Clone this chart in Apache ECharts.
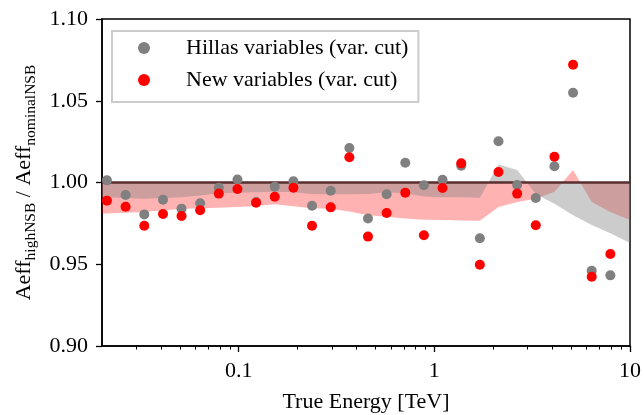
<!DOCTYPE html>
<html>
<head>
<meta charset="utf-8">
<script src="https://cdn.jsdelivr.net/npm/echarts@6/dist/echarts.min.js"></script>
<style>html,body{margin:0;padding:0;background:#fff;}#c{width:644px;height:415px;}</style>
</head>
<body>
<div id="c"></div>
<script>
const energy = [0.0212, 0.0264, 0.0329, 0.0410, 0.0510, 0.0635, 0.0791, 0.0985, 0.1227, 0.1528, 0.1904, 0.2370, 0.2952, 0.3677, 0.4578, 0.5702, 0.7101, 0.8843, 1.101, 1.372, 1.708, 2.127, 2.649, 3.299, 4.109, 5.117, 6.373, 7.937];
const hillas = [1.0013, 0.9924, 0.9805, 0.9895, 0.9840, 0.9873, 0.9968, 1.0018, 0.9880, 0.9974, 1.0007, 0.9858, 0.9950, 1.0211, 0.9780, 0.9928, 1.0121, 0.9983, 1.0017, 1.0103, 0.9659, 1.0252, 0.9985, 0.9905, 1.0099, 1.0549, 0.9460, 0.9432];
const newVars = [0.9889, 0.9852, 0.9736, 0.9807, 0.9795, 0.9830, 0.9932, 0.9960, 0.9876, 0.9913, 0.9968, 0.9736, 0.9848, 1.0154, 0.9669, 0.9813, 0.9938, 0.9677, 0.9966, 1.0117, 0.9497, 1.0064, 0.9932, 0.9738, 1.0158, 1.0720, 0.9424, 0.9563];
const bandEnergy = [0.02, 0.0212, 0.0264, 0.0329, 0.0410, 0.0510, 0.0635, 0.0791, 0.0985, 0.1227, 0.1528, 0.1904, 0.2370, 0.2952, 0.3677, 0.4578, 0.5702, 0.7101, 0.8843, 1.101, 1.372, 1.708, 2.127, 2.649, 3.299, 4.109, 5.117, 6.373, 7.937, 10];
const hillasBand = [0.9913, 0.991, 0.9905, 0.990, 0.9905, 0.991, 0.992, 0.9934, 0.9938, 0.994, 0.9944, 0.994, 0.993, 0.9928, 0.9928, 0.993, 0.994, 0.9935, 0.9915, 0.991, 0.991, 0.9907, 1.011, 1.0076, 0.993, 0.987, 0.980, 0.974, 0.969, 0.963];
const newBand = [0.981, 0.981, 0.9815, 0.982, 0.983, 0.9838, 0.9842, 0.9846, 0.985, 0.9856, 0.9867, 0.9855, 0.9842, 0.984, 0.9822, 0.980, 0.979, 0.978, 0.9772, 0.977, 0.9768, 0.9766, 0.985, 0.988, 0.990, 0.9944, 1.0076, 0.988, 0.982, 0.977];
const refLineX = [0.02, 10];
const refLineY = [1.0, 1.0];
const xMajorTicks = [0.1, 1, 10];
const xMinorTicks = [0.03, 0.04, 0.05, 0.06, 0.07, 0.08, 0.09, 0.2, 0.3, 0.4, 0.5, 0.6, 0.7, 0.8, 0.9, 2, 3, 4, 5, 6, 7, 8, 9];
const seriesNames = ['Hillas variables (var. cut)', 'New variables (var. cut)'];

const FONT = 'Liberation Serif';
const zip = (a, b) => a.map((v, i) => [v, b[i]]);

const chart = echarts.init(document.getElementById('c'), null, {renderer: 'canvas'});
chart.setOption({
  animation: false,
  backgroundColor: '#fff',
  textStyle: {fontFamily: FONT},
  grid: {left: 102, right: 14, top: 19, bottom: 69, containLabel: false, outerBoundsMode: 'none',
    show: true, borderColor: '#000', borderWidth: 1.5, backgroundColor: 'transparent'},
  legend: {
    orient: 'vertical', left: 112, top: 31,
    data: seriesNames,
    itemWidth: 12, itemHeight: 12, itemGap: 8,
    padding: [5, 10, 10, 26],
    borderColor: '#cccccc', borderWidth: 2, borderRadius: 0,
    backgroundColor: 'rgba(255,255,255,0.8)',
    itemStyle: {opacity: 1},
    textStyle: {fontFamily: FONT, fontSize: 22, color: '#000', lineHeight: 24, padding: [0, 0, 0, 31]}
  },
  xAxis: [{
    type: 'log', logBase: 10, min: 0.02, max: 10,
    name: 'True Energy [TeV]', nameLocation: 'middle', nameGap: 45,
    nameTextStyle: {fontFamily: FONT, fontSize: 22, color: '#000'},
    axisLine: {show: true, lineStyle: {color: '#000', width: 1.5}},
    axisTick: {show: true, inside: false, length: 6, lineStyle: {color: '#000', width: 1.3}, customValues: xMajorTicks},
    axisLabel: {show: true, fontFamily: FONT, fontSize: 22, color: '#000', margin: 14, customValues: xMajorTicks,
      formatter: v => (v >= 1 ? String(Math.round(v)) : String(+v.toPrecision(1)))},
    splitLine: {show: false}, minorTick: {show: false}
  }, {
    type: 'log', logBase: 10, min: 0.02, max: 10, position: 'bottom',
    axisLine: {show: false},
    axisTick: {show: true, inside: false, length: 3.5, lineStyle: {color: '#000', width: 1}, customValues: xMinorTicks},
    axisLabel: {show: false},
    splitLine: {show: false}
  }],
  yAxis: {
    type: 'value', min: 0.9, max: 1.1, interval: 0.05,
    name: 'Aeff{sub|highNSB} / Aeff{sub|nominalNSB}', nameLocation: 'middle', nameRotate: 90, nameGap: 66,
    nameTextStyle: {fontFamily: FONT, fontSize: 22, color: '#000', lineHeight: 22,
      rich: {sub: {fontFamily: FONT, fontSize: 15.5, color: '#000', lineHeight: 16, padding: [12, 0, 0, 0]}}},
    axisLine: {show: true, lineStyle: {color: '#000', width: 1.5}},
    axisTick: {show: true, inside: false, length: 6, lineStyle: {color: '#000', width: 1.3}},
    axisLabel: {fontFamily: FONT, fontSize: 22, color: '#000', margin: 14, formatter: v => v.toFixed(2)},
    splitLine: {show: false}
  },
  series: [
    {type: 'line', name: 'newBand', data: zip(bandEnergy, newBand), symbol: 'none', silent: true,
      lineStyle: {width: 0, opacity: 0}, areaStyle: {origin: 1, color: 'rgba(255,0,0,0.3)', opacity: 1}, z: 1},
    {type: 'line', name: 'hillasBand', data: zip(bandEnergy, hillasBand), symbol: 'none', silent: true,
      lineStyle: {width: 0, opacity: 0}, areaStyle: {origin: 1, color: 'rgba(128,128,128,0.4)', opacity: 1}, z: 2},
    {type: 'line', name: 'ref', data: zip(refLineX, refLineY), symbol: 'none', silent: true,
      lineStyle: {width: 2.6, color: '#5a2e2e'}, z: 3},
    {type: 'scatter', name: seriesNames[0], data: zip(energy, hillas), symbol: 'circle', symbolSize: 10,
      itemStyle: {color: '#808080', opacity: 1}, z: 4},
    {type: 'scatter', name: seriesNames[1], data: zip(energy, newVars), symbol: 'circle', symbolSize: 10,
      itemStyle: {color: '#ff0000', opacity: 1}, z: 5}
  ]
});
</script>
</body>
</html>
